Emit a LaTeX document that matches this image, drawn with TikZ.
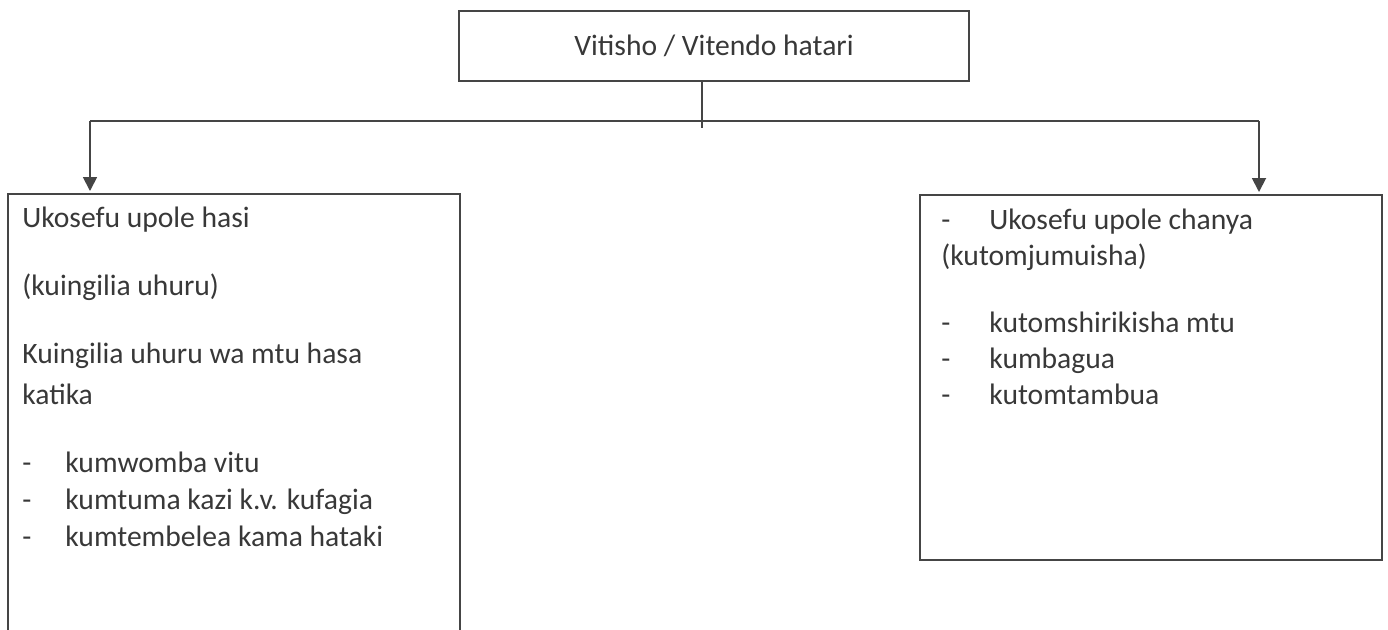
\documentclass[tikz,border=0pt]{standalone}
\usepackage{fontspec}
\setmainfont{Carlito}
\usetikzlibrary{positioning,arrows.meta}

\definecolor{inkgray}{HTML}{454545}
\definecolor{txtgray}{HTML}{383838}

\newcommand{\dashitem}[2][21.5pt]{\makebox[#1][l]{-}#2}

\tikzset{
	box/.style={draw=inkgray, line width=1pt, rectangle, inner sep=0pt, anchor=north west},
	txt/.style={text=txtgray, font=\fontsize{14.8}{18.5}\selectfont, inner sep=0pt, align=left, anchor=base west},
	conn/.style={draw=inkgray, line width=0.9pt},
	arrow/.style={conn, -{Triangle[width=7pt,length=7pt]}, shorten >=1pt},
}

\begin{document}
\begin{tikzpicture}[x=0.5pt,y=-0.5pt]
		\useasboundingbox (0,0) rectangle (1388,629);
		\clip (0,0) rectangle (1388,629);
		% boxes
		\node[box, minimum width=255pt, minimum height=35pt, text=txtgray, font=\fontsize{14.8}{18.5}\selectfont] (threat) at (458,10) {Vitisho / Vitendo hatari};
		\node[box, minimum width=226pt, minimum height=230pt] (hasi) at (7,193) {};
		\node[box, minimum width=231pt, minimum height=182.5pt] (chanya) at (919,194) {};
		% texts (base = last line)
		\node[txt] (hasitext) at (22,546) {Ukosefu upole hasi\\[15.5pt]
			(kuingilia uhuru)\\[15.5pt]
			Kuingilia uhuru wa mtu hasa\\[2pt]
			katika\\[15.5pt]
			\dashitem{kumwomba vitu}\\
			\dashitem{kumtuma kazi k.v. kufagia}\\
			\dashitem{kumtembelea kama hataki}};
		\node[txt, font=\fontsize{14.8}{18}\selectfont] (chanyatext) at (941,404) {\dashitem[24pt]{Ukosefu upole chanya}\\
			(kutomjumuisha)\\[15.5pt]
			\dashitem[24pt]{kutomshirikisha mtu}\\
			\dashitem[24pt]{kumbagua}\\
			\dashitem[24pt]{kutomtambua}};
		% connectors
		\coordinate (split) at (702,121);
		\coordinate (lturn) at (90,121);
		\coordinate (rturn) at (1259,121);
		\draw[conn] (threat.south -| split) -- ([yshift=-3.5pt]split);
		\draw[conn] (lturn) -- (rturn);
		\draw[arrow] (lturn) -- (lturn |- hasi.north);
		\draw[arrow] (rturn) -- (rturn |- chanya.north);
	\end{tikzpicture}
\end{document}
